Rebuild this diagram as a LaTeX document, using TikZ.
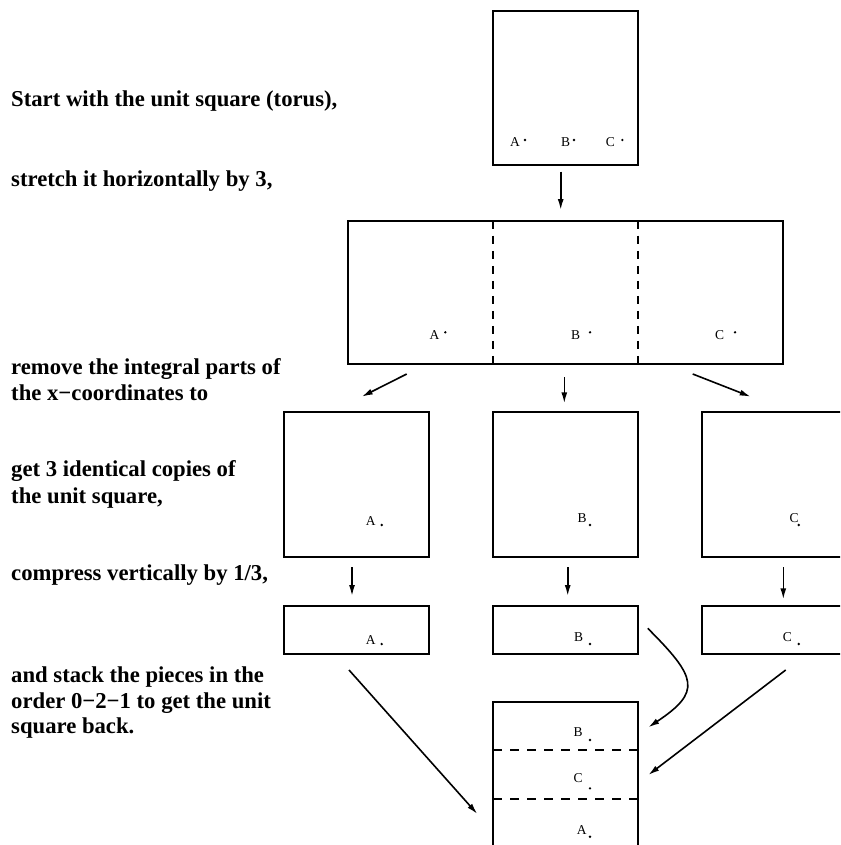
\documentclass[tikz,border=0pt]{standalone}
\usepackage{fontspec}
\setmainfont{Liberation Serif}
\usetikzlibrary{arrows.meta,calc}
\begin{document}
\begin{tikzpicture}[x=1pt,y=-1pt,
  box/.style={draw,line width=2pt,inner sep=0pt,outer sep=0pt,rectangle},
  conn/.style={line width=1.6pt,-{Latex[length=11pt,width=6pt]}},
  vcut/.style={line width=2pt,dash pattern=on 8pt off 7.03pt},
  hcut/.style={line width=2pt,dash pattern=on 9pt off 8pt},
  txt/.style={anchor=base west,inner sep=0pt,font=\fontsize{22.7}{26}\selectfont\bfseries},
  lab/.style={anchor=base west,inner sep=0pt,font=\fontsize{13.5}{16}\selectfont}
]
\useasboundingbox (0,0) rectangle (840,845);
\clip (0,0) rectangle (840,845);

% explanatory text
\node[txt] (t1) at (11,107) {Start with the unit square (torus),};
\node[txt] (t2) at (11,186.8) {stretch it horizontally by 3,};
\node[txt] (t3) at (11,374.2) {remove the integral parts of};
\node[txt] (t4) at (11,400.7) {the x−coordinates to};
\node[txt] (t5) at (11,476.7) {get 3 identical copies of};
\node[txt] (t6) at (11,503.3) {the unit square,};
\node[txt] (t7) at (11,580) {compress vertically by 1/3,};
\node[txt] (t8) at (11,682) {and stack the pieces in the};
\node[txt] (t9) at (11,708.3) {order 0−2−1 to get the unit};
\node[txt] (t10) at (11,733.3) {square back.};

% boxes
\node[box,minimum width=145pt,minimum height=154pt] (top) at (565.8,88) {};
\node[box,minimum width=434.4pt,minimum height=143.3pt] (wide) at (565.5,292.35) {};
\draw[vcut] ($(wide.north west)!1/3!(wide.north east)$) -- ($(wide.south west)!1/3!(wide.south east)$);
\draw[vcut] ($(wide.north west)!2/3!(wide.north east)$) -- ($(wide.south west)!2/3!(wide.south east)$);

\node[box,minimum width=145pt,minimum height=145pt] (sqA) at (356.7,484.8) {};
\node[box,minimum width=145pt,minimum height=145pt] (sqB) at (565.8,484.8) {};
\node[box,minimum width=145pt,minimum height=145pt] (sqC) at (774.8,484.8) {};

\node[box,minimum width=145pt,minimum height=48pt] (smA) at (356.7,629.7) {};
\node[box,minimum width=145pt,minimum height=48pt] (smB) at (565.8,629.7) {};
\node[box,minimum width=145pt,minimum height=48pt] (smC) at (774.8,629.7) {};

\node[box,minimum width=145pt,minimum height=144.4pt] (bot) at (565.8,774.5) {};
\draw[hcut] ($(bot.north west)!1/3!(bot.south west)$) -- ($(bot.north east)!1/3!(bot.south east)$);
\draw[hcut] ($(bot.north west)!2/3!(bot.south west)$) -- ($(bot.north east)!2/3!(bot.south east)$);

% labels and points
\node[lab] (lA0) at (510,146.7) {A};
\node[lab] (lB0) at (561,146.7) {B};
\node[lab] (lC0) at (605.7,146.7) {C};
\fill (525,140) circle (1.3pt) (574,140) circle (1.3pt) (622.3,140) circle (1.3pt);

\node[lab] (lA1) at (429.3,339) {A};
\node[lab] (lB1) at (571,339) {B};
\node[lab] (lC1) at (715,339) {C};
\fill (445.3,332.3) circle (1.3pt) (590,332.3) circle (1.3pt) (735,332.3) circle (1.3pt);

\node[lab] (lA2) at (365.7,525.7) {A};
\node[lab] (lB2) at (577.3,522.3) {B};
\node[lab] (lC2) at (789.3,522.3) {C};
\fill (381.7,525) circle (1.3pt) (590,525) circle (1.3pt) (798.7,525) circle (1.3pt);

\node[lab] (lA3) at (365.7,644) {A};
\node[lab] (lB3) at (574,641) {B};
\node[lab] (lC3) at (782.7,641) {C};
\fill (381.7,644) circle (1.3pt) (590,644) circle (1.3pt) (798.7,644) circle (1.3pt);

\node[lab] (lB4) at (573.3,736.7) {B};
\node[lab] (lC4) at (573.3,782.7) {C};
\node[lab] (lA4) at (576.7,834.3) {A};
\fill (590,740) circle (1.3pt) (590,788.3) circle (1.3pt) (590,836.7) circle (1.3pt);

% connector end points
\coordinate (a1s) at (560.7,171.7);  \coordinate (a1e) at (560.7,210);
\coordinate (a2s) at (406.7,374);    \coordinate (a2e) at (361.7,396.7);
\coordinate (a3s) at (564.3,377.3);  \coordinate (a3e) at (564.3,403.3);
\coordinate (a4s) at (692.7,374);    \coordinate (a4e) at (750.7,396.7);
\coordinate (a5s) at (352,567.3);    \coordinate (a5e) at (352,596);
\coordinate (a6s) at (567.7,567.3);  \coordinate (a6e) at (567.7,596);
\coordinate (a7s) at (783.3,567.3);  \coordinate (a7e) at (783.3,599.3);
\coordinate (a8s) at (349,670);      \coordinate (a8e) at (477.3,814);
\coordinate (a9s) at (647.7,628.3);  \coordinate (a9e) at (648.3,727.3);
\coordinate (a10s) at (785.7,670);   \coordinate (a10e) at (648.3,775);

\draw[conn] (a1s) -- (a1e);
\draw[conn] (a2s) -- (a2e);
\draw[conn] (a3s) -- (a3e);
\draw[conn] (a4s) -- (a4e);
\draw[conn] (a5s) -- (a5e);
\draw[conn] (a6s) -- (a6e);
\draw[conn] (a7s) -- (a7e);
\draw[conn] (a8s) -- (a8e);
\draw[conn] (a9s) .. controls (697.2,677.8) and (701.7,691.7) .. (a9e);
\draw[conn] (a10s) -- (a10e);
\end{tikzpicture}
\end{document}
